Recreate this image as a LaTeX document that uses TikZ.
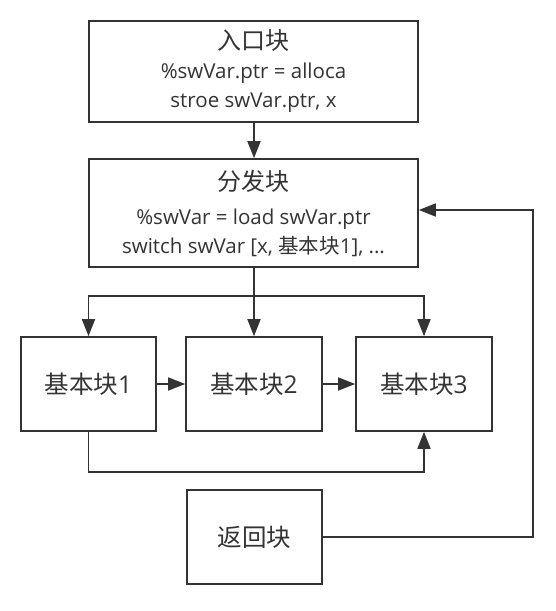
\documentclass[tikz,border=0pt]{standalone}
\usepackage{fontspec}
\setmainfont{Open Sans}
\newfontfamily\cjk{Noto Sans CJK SC}
\usetikzlibrary{arrows.meta,calc}
\definecolor{ink}{HTML}{333333}
\tikzset{
  blockbox/.style={draw=ink, line width=1.6pt, text=ink, inner sep=0pt, align=center, font=\fontsize{20.5}{29}\selectfont},
  bigtext/.style={font=\fontsize{24.5}{28}\selectfont},
  conn/.style={draw=ink, line width=1.6pt, -{Triangle[length=17pt,width=13pt]}},
  plain/.style={draw=ink, line width=1.6pt}
}
\begin{document}
\begin{tikzpicture}[x=1pt,y=-1pt]
\useasboundingbox (0,0) rectangle (556,611);
\node[blockbox, minimum width=329pt, minimum height=101pt] (entry) at (253.5,71.5)
  {{\cjk\fontsize{24}{29}\selectfont 入口块}\\\%swVar.ptr = alloca\\stroe swVar.ptr, x};
\node[blockbox, minimum width=329pt, minimum height=108pt] (disp) at (253.5,213)
  {{\cjk\fontsize{24}{29}\selectfont 分发块}\\[5pt]\%swVar = load swVar.ptr\\switch swVar [x, {\cjk 基本块}1], ...};
\node[blockbox, bigtext, minimum width=135pt, minimum height=94pt] (b1) at (88.5,384) {{\cjk 基本块}1};
\node[blockbox, bigtext, minimum width=136pt, minimum height=94pt] (b2) at (254,384) {{\cjk 基本块}2};
\node[blockbox, bigtext, minimum width=136pt, minimum height=94pt] (b3) at (424,384) {{\cjk 基本块}3};
\node[blockbox, bigtext, minimum width=135pt, minimum height=94pt] (ret) at (254.5,537) {\cjk 返回块};
\coordinate (split) at (254,296);
\coordinate (splitL) at (88.5,296);
\coordinate (splitR) at (424,296);
\coordinate (low1) at (88.5,472);
\coordinate (low3) at (424,472);
\coordinate (rr) at (533,537);
\coordinate (rt) at (533,210);
\draw[conn] (entry.south -| split) -- (disp.north -| split);
\draw[conn] (disp.south -| split) -- (b2.north);
\draw[conn] (split) -- (splitL) -- (b1.north);
\draw[conn] (split) -- (splitR) -- (b3.north);
\draw[conn] (b1.east) -- (b2.west);
\draw[conn] (b2.east) -- (b3.west);
\draw[conn] (b1.south) -- (low1) -- (low3) -- (b3.south);
\draw[conn] (ret.east) -- (rr) -- (rt) -- (rt -| disp.east);
\end{tikzpicture}
\end{document}
